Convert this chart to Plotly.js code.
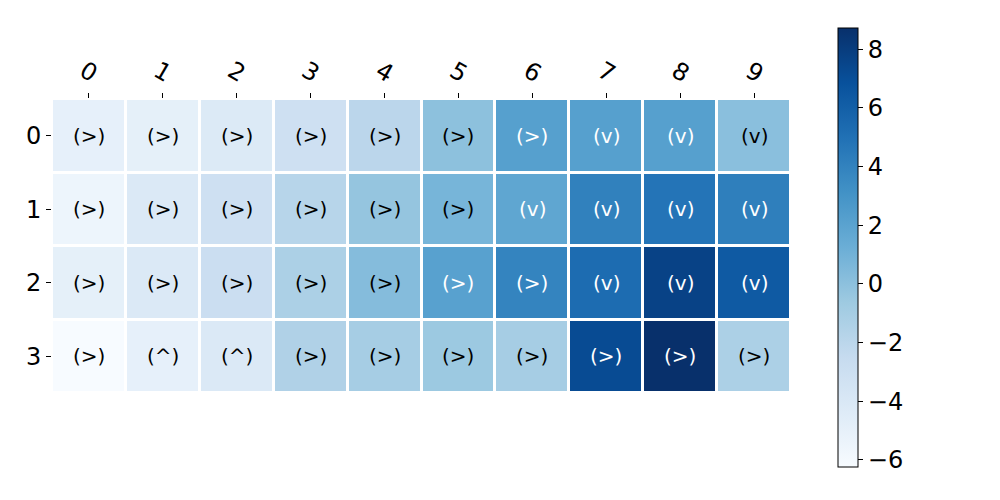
<!DOCTYPE html>
<html>
<head>
<meta charset="utf-8">
<script src="https://cdn.plot.ly/plotly-3.0.1.min.js"></script>
<style>html,body{margin:0;padding:0;background:#fff;}#chart{width:1000px;height:500px;}</style>
</head>
<body>
<div id="chart"></div>
<script>
const xLabels = ["0","1","2","3","4","5","6","7","8","9"];
const yLabels = ["0","1","2","3"];

const row0 = [-5.0, -4.9, -4.2, -3.1, -2.0, 0.0, 2.2, 2.2, 2.2, 0.1];
const row1 = [-5.5, -4.1, -3.1, -1.8, -0.3, 0.8, 1.8, 4.1, 4.8, 4.2];
const row2 = [-4.9, -4.1, -2.9, -1.3, 0.3, 2.1, 3.9, 5.3, 7.7, 6.3];
const row3 = [-6.24, -5.0, -4.1, -1.45, -1.0, -0.55, -1.0, 7.2, 8.72, -1.3];

const text0 = ["(>)","(>)","(>)","(>)","(>)","(>)","(>)","(v)","(v)","(v)"];
const text1 = ["(>)","(>)","(>)","(>)","(>)","(>)","(v)","(v)","(v)","(v)"];
const text2 = ["(>)","(>)","(>)","(>)","(>)","(>)","(>)","(v)","(v)","(v)"];
const text3 = ["(>)","(^)","(^)","(>)","(>)","(>)","(>)","(>)","(>)","(>)"];

const z = [row0, row1, row2, row3];
const texts = [text0, text1, text2, text3];

const blues = [
  [0.0, "#f7fbff"], [0.125, "#deebf7"], [0.25, "#c6dbef"], [0.375, "#9ecae1"],
  [0.5, "#6baed6"], [0.625, "#4292c6"], [0.75, "#2171b5"], [0.875, "#08519c"], [1.0, "#08306b"]
];

let zmin = Infinity, zmax = -Infinity;
z.forEach(r => r.forEach(v => { zmin = Math.min(zmin, v); zmax = Math.max(zmax, v); }));
const threshold = zmin + (zmax - zmin) / 2;

const annotations = [];
z.forEach((r, i) => r.forEach((v, j) => {
  annotations.push({
    x: xLabels[j], y: yLabels[i], xref: "x", yref: "y",
    text: texts[i][j], showarrow: false,
    font: {family: "DejaVu Sans", size: 20, color: v > threshold ? "#ffffff" : "#000000"}
  });
}));
// rotated top tick labels, centred on each tick
xLabels.forEach(lbl => {
  annotations.push({
    x: lbl, y: 0.856, xref: "x", yref: "paper",
    text: lbl, showarrow: false, textangle: 30,
    xanchor: "center", yanchor: "middle",
    font: {family: "DejaVu Sans", size: 24, color: "#000"}
  });
});

const trace = {
  type: "heatmap",
  x: xLabels, y: yLabels, z: z,
  zmin: zmin, zmax: zmax,
  colorscale: blues,
  xgap: 3, ygap: 3,
  hoverinfo: "skip",
  colorbar: {
    x: 0.838, xanchor: "left", xref: "paper",
    y: 0.505, yanchor: "middle", yref: "paper",
    len: 0.878, lenmode: "fraction",
    thickness: 20, thicknessmode: "pixels",
    outlinewidth: 1, outlinecolor: "#000",
    ticks: "outside", ticklen: 5, tickcolor: "#000",
    tickvals: [-6,-4,-2,0,2,4,6,8],
    tickfont: {family: "DejaVu Sans", size: 24, color: "#000"},
    xpad: 0, ypad: 0
  }
};

const layout = {
  width: 1000, height: 500,
  margin: {l: 0, r: 0, t: 0, b: 0},
  paper_bgcolor: "#fff", plot_bgcolor: "#fff",
  showlegend: false,
  xaxis: {
    domain: [0.052, 0.791], side: "top", type: "category",
    showgrid: false, zeroline: false, showline: false,
    ticks: "outside", ticklen: 5, tickcolor: "#000",
    showticklabels: false
  },
  yaxis: {
    domain: [0.214, 0.802], type: "category", autorange: "reversed",
    showgrid: false, zeroline: false, showline: false,
    ticks: "outside", ticklen: 5, tickcolor: "#000",
    tickfont: {family: "DejaVu Sans", size: 24, color: "#000"}
  },
  annotations: annotations
};

Plotly.newPlot("chart", [trace], layout, {staticPlot: true});
</script>
</body>
</html>
